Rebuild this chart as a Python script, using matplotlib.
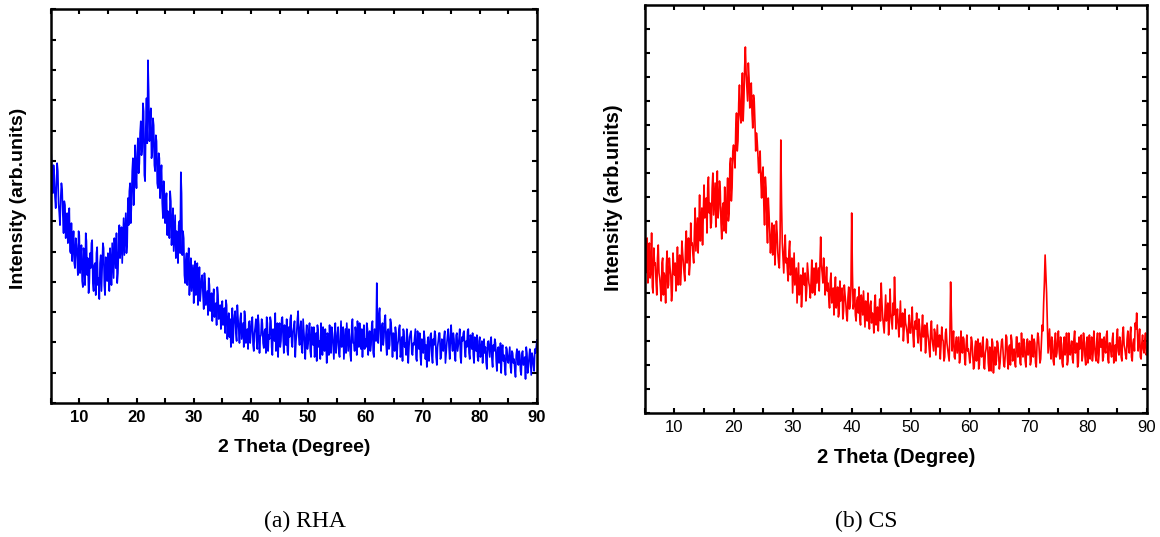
import numpy as np
import matplotlib.pyplot as plt
from matplotlib.ticker import MultipleLocator

plt.rcParams['font.family'] = ['Liberation Sans', 'DejaVu Sans']

# readings on a 0.25 deg grid (5.0, 5.25, ...) and on the midpoints (5.125, 5.375, ...)
theta_main = np.arange(5.0, 90.01, 0.25)
theta_mid = np.arange(5.125, 89.9, 0.25)

# RHA intensity (arb. units), left panel, one row = 5 degrees
rha_main = [
    263, 225, 238, 206, 218, 232, 190, 205, 214, 170, 198, 185, 160, 195, 150, 142, 172, 135, 158, 128,
    168, 140, 122, 155, 118, 162, 145, 120, 135, 163, 112, 140, 150, 118, 104, 148, 135, 155, 108, 130,
    150, 112, 138, 160, 125, 148, 170, 130, 178, 155, 140, 185, 170, 150, 205, 212, 180, 232, 198, 258,
    215, 265, 240, 282, 255, 292, 222, 305, 343, 262, 295, 250, 278, 232, 262, 215, 245, 228, 200, 222,
    180, 210, 192, 165, 202, 175, 152, 188, 172, 140, 182, 231, 148, 165, 120, 150, 135, 108, 145, 125,
    100, 142, 122, 98, 136, 112, 128, 94, 120, 105, 88, 118, 100, 82, 114, 95, 78, 108, 90, 74,
    102, 85, 70, 98, 80, 66, 56, 95, 78, 92, 62, 84, 60, 90, 72, 56, 85, 66, 54, 82,
    70, 86, 52, 76, 62, 88, 50, 68, 80, 55, 74, 86, 52, 64, 82, 48, 70, 90, 58, 46,
    80, 62, 86, 50, 72, 84, 48, 66, 88, 56, 76, 46, 70, 92, 58, 82, 50, 72, 44, 78,
    60, 80, 46, 68, 76, 52, 42, 72, 62, 80, 48, 58, 74, 40, 66, 78, 50, 70, 44, 80,
    58, 76, 46, 82, 62, 44, 74, 80, 52, 66, 42, 84, 60, 76, 48, 70, 80, 54, 46, 78,
    64, 80, 48, 72, 58, 82, 46, 70, 120, 60, 95, 52, 80, 66, 88, 48, 74, 58, 80, 46,
    68, 76, 44, 62, 78, 50, 42, 72, 60, 74, 40, 66, 72, 48, 58, 74, 42, 64, 70, 38,
    60, 72, 44, 36, 66, 54, 70, 40, 58, 68, 38, 62, 70, 46, 56, 66, 40, 60, 74, 44,
    78, 52, 64, 42, 70, 58, 74, 40, 62, 72, 46, 56, 74, 44, 64, 70, 40, 58, 68, 42,
    66, 50, 40, 64, 56, 34, 62, 46, 66, 36, 52, 60, 32, 56, 44, 30, 58, 48, 28, 54,
    40, 56, 30, 50, 44, 26, 54, 38, 48, 28, 52, 42, 24, 50, 36, 54, 28, 46, 32, 50,
    63,
]
rha_mid = [
    244, 210, 228, 195, 240, 200, 178, 220, 188, 202, 165, 190, 176, 152, 180, 160, 140, 165, 145, 172,
    130, 158, 116, 145, 170, 128, 110, 150, 160, 120, 138, 108, 156, 125, 140, 112, 160, 118, 146, 122,
    128, 155, 118, 142, 165, 135, 120, 158, 145, 176, 162, 148, 190, 160, 178, 220, 200, 245, 215, 232,
    250, 230, 270, 248, 300, 228, 275, 260, 312, 280, 245, 285, 238, 268, 220, 250, 205, 238, 185, 210,
    200, 168, 185, 212, 158, 195, 170, 145, 160, 178, 150, 210, 172, 128, 142, 118, 155, 130, 112, 138,
    130, 108, 140, 115, 102, 125, 108, 130, 98, 112, 125, 92, 110, 104, 86, 100, 116, 84, 98, 92,
    78, 95, 103, 64, 90, 84, 72, 60, 88, 70, 98, 74, 84, 64, 80, 92, 60, 74, 80, 60,
    82, 58, 70, 84, 54, 78, 66, 84, 60, 72, 50, 80, 68, 86, 56, 74, 62, 52, 80, 72,
    56, 84, 66, 78, 58, 52, 76, 84, 60, 72, 82, 62, 84, 66, 76, 54, 84, 60, 68, 54,
    72, 52, 76, 58, 46, 70, 78, 56, 44, 70, 76, 52, 60, 70, 48, 58, 76, 56, 66, 50,
    70, 50, 64, 56, 76, 58, 50, 66, 74, 48, 78, 60, 52, 70, 82, 56, 64, 74, 68, 54,
    56, 74, 66, 52, 78, 50, 74, 62, 84, 88, 70, 76, 58, 84, 60, 72, 54, 84, 66, 70,
    52, 70, 58, 74, 46, 66, 74, 56, 48, 66, 56, 70, 50, 60, 66, 44, 72, 54, 46, 64,
    50, 64, 58, 62, 42, 68, 48, 64, 72, 46, 56, 70, 44, 64, 52, 72, 50, 68, 56, 66,
    60, 70, 48, 68, 52, 64, 46, 66, 70, 54, 62, 72, 50, 68, 54, 48, 66, 52, 46, 62,
    46, 62, 56, 50, 40, 60, 54, 62, 44, 58, 64, 42, 54, 40, 60, 52, 42, 36, 56, 42,
    48, 36, 52, 40, 34, 48, 44, 52, 32, 50, 38, 46, 56, 30, 46, 40, 50, 38, 54, 56,
]

# CS intensity (arb. units), right panel, one row = 5 degrees
cs_main = [
    186, 150, 130, 170, 142, 126, 165, 150, 118, 168, 135, 112, 155, 140, 110, 162, 128, 145, 112, 160,
    138, 122, 166, 145, 128, 172, 150, 132, 182, 160, 138, 190, 170, 150, 205, 178, 160, 218, 190, 168,
    228, 200, 180, 236, 210, 190, 240, 215, 186, 242, 205, 222, 174, 210, 226, 180, 235, 200, 255, 225,
    268, 245, 300, 272, 328, 290, 340, 312, 366, 325, 350, 305, 330, 285, 312, 262, 272, 240, 262, 215,
    246, 188, 225, 170, 200, 160, 190, 175, 148, 192, 160, 145, 273, 170, 140, 178, 155, 132, 172, 145,
    120, 160, 136, 110, 150, 125, 106, 145, 128, 112, 150, 130, 115, 153, 135, 118, 150, 138, 122, 176,
    140, 155, 118, 146, 130, 105, 140, 120, 98, 136, 112, 96, 132, 118, 94, 128, 110, 92, 126, 108,
    200, 104, 124, 92, 116, 126, 88, 110, 122, 86, 104, 120, 84, 112, 100, 80, 118, 96, 82, 114,
    130, 96, 80, 118, 104, 78, 124, 92, 110, 136, 84, 104, 76, 112, 90, 72, 104, 86, 70, 98,
    80, 106, 66, 92, 100, 70, 86, 62, 98, 78, 60, 90, 74, 56, 92, 68, 84, 58, 88, 70,
    54, 86, 72, 56, 84, 64, 52, 131, 62, 82, 54, 76, 68, 50, 82, 60, 74, 48, 78, 64,
    50, 76, 58, 46, 72, 62, 44, 70, 56, 76, 44, 64, 72, 42, 58, 74, 40, 66, 52, 70,
    44, 62, 74, 48, 58, 76, 44, 68, 78, 52, 64, 46, 76, 60, 50, 80, 56, 70, 46, 74,
    62, 48, 78, 56, 70, 46, 80, 62, 54, 88, 110, 158, 120, 60, 84, 54, 72, 48, 80, 60,
    82, 54, 70, 46, 76, 64, 48, 80, 58, 72, 50, 82, 62, 46, 76, 66, 52, 80, 56, 70,
    50, 78, 64, 52, 82, 58, 72, 50, 80, 66, 52, 76, 60, 82, 50, 70, 56, 80, 62, 52,
    84, 58, 72, 52, 86, 64, 54, 82, 60, 86, 52, 74, 90, 100, 62, 84, 54, 78, 60, 80,
    62,
]
cs_mid = [
    140, 175, 158, 135, 180, 120, 148, 132, 155, 140, 125, 150, 118, 135, 148, 125, 155, 138, 122, 145,
    150, 135, 128, 158, 140, 160, 140, 168, 150, 175, 148, 168, 158, 182, 162, 195, 185, 172, 205, 200,
    195, 215, 225, 200, 185, 225, 198, 230, 210, 195, 232, 190, 205, 182, 198, 215, 192, 248, 212, 262,
    255, 285, 262, 310, 298, 318, 292, 345, 340, 312, 335, 320, 300, 318, 290, 280, 258, 250, 232, 240,
    208, 236, 190, 215, 180, 172, 158, 188, 165, 180, 150, 175, 210, 155, 165, 150, 142, 162, 138, 155,
    140, 128, 145, 130, 118, 138, 120, 132, 140, 122, 140, 126, 132, 120, 145, 128, 130, 145, 150, 148,
    130, 140, 128, 122, 115, 132, 110, 125, 120, 105, 126, 100, 112, 125, 102, 118, 98, 116, 104, 125,
    140, 110, 98, 112, 100, 95, 118, 98, 105, 112, 92, 98, 108, 90, 96, 110, 88, 106, 100, 92,
    110, 88, 100, 92, 110, 90, 100, 84, 98, 112, 96, 88, 94, 86, 100, 84, 90, 80, 88, 80,
    92, 78, 86, 84, 78, 94, 72, 84, 76, 88, 72, 80, 64, 82, 74, 62, 80, 72, 66, 78,
    68, 74, 52, 80, 70, 58, 78, 100, 74, 56, 70, 60, 76, 56, 66, 76, 54, 68, 62, 58,
    58, 72, 44, 66, 52, 74, 48, 62, 70, 46, 60, 74, 50, 66, 42, 70, 56, 48, 72, 58,
    50, 72, 62, 46, 78, 54, 66, 48, 72, 60, 50, 76, 56, 70, 48, 62, 74, 52, 66, 58,
    72, 52, 66, 74, 50, 68, 76, 50, 72, 82, 130, 140, 88, 72, 64, 76, 52, 68, 56, 74,
    62, 76, 50, 68, 58, 80, 52, 70, 64, 54, 74, 60, 70, 50, 64, 78, 58, 72, 48, 76,
    66, 54, 76, 60, 68, 52, 80, 58, 66, 74, 56, 64, 78, 54, 70, 62, 74, 50, 68, 76,
    62, 76, 56, 80, 68, 58, 74, 66, 78, 56, 70, 62, 84, 80, 72, 56, 70, 64, 72, 58,
]


def merge(main, mid):
    # put both sets of readings back in 2-theta order
    xs = np.concatenate([theta_main, theta_mid])
    ys = np.concatenate([main, mid])
    order = np.argsort(xs)
    return xs[order], ys[order]


panels = [
    # (main, mid, colour, y top, y tick step, axes rect, bold ticks, font size,
    #  caption, caption x, ylabel x, ylabel y)
    (rha_main, rha_mid, 'blue', 394, 30.3, [0.0437, 0.2495, 0.4192, 0.7332], True, 14,
     '(a) RHA', 305, -0.066, 0.52),
    (cs_main, cs_mid, 'red', 408, 24.0, [0.5560, 0.2309, 0.4328, 0.7598], False, 14.5,
     '(b) CS', 866, -0.063, 0.527),
]

fig = plt.figure(figsize=(11.6, 5.37), dpi=100)

for main, mid, col, ytop, ystep, rect, bold_ticks, fs, caption, cx, lx, ly in panels:
    ax = fig.add_axes(rect)
    x, y = merge(main, mid)
    ax.plot(x, y, color=col, lw=1.2)
    ax.set_xlim(5, 90)
    ax.set_ylim(0, ytop)
    ax.xaxis.set_major_locator(MultipleLocator(10))
    ax.xaxis.set_minor_locator(MultipleLocator(5))
    ax.set_yticks(np.arange(0, ytop, ystep))
    ax.tick_params(which='both', direction='in', top=True, right=True,
                   length=3.5, width=1.5, labelleft=False, labelsize=12, pad=5)
    for t in ax.get_xticklabels():
        t.set_fontweight('bold' if bold_ticks else 'normal')
    for s in ax.spines.values():
        s.set_linewidth(1.8)
    ax.set_xlabel('2 Theta (Degree)', fontsize=fs, fontweight='bold')
    ax.set_ylabel('Intensity (arb.units)', fontsize=fs, fontweight='bold')
    ax.xaxis.label.set_va('center')
    ax.yaxis.label.set_va('center')
    ax.xaxis.set_label_coords(0.5, -44.5 / ytop)
    ax.yaxis.set_label_coords(lx, ly)
    fig.text(cx / 1160, 1 - 521 / 537, caption, ha='center', va='center',
             fontsize=17, family='Liberation Serif')

fig.savefig('out.png', dpi=100)
